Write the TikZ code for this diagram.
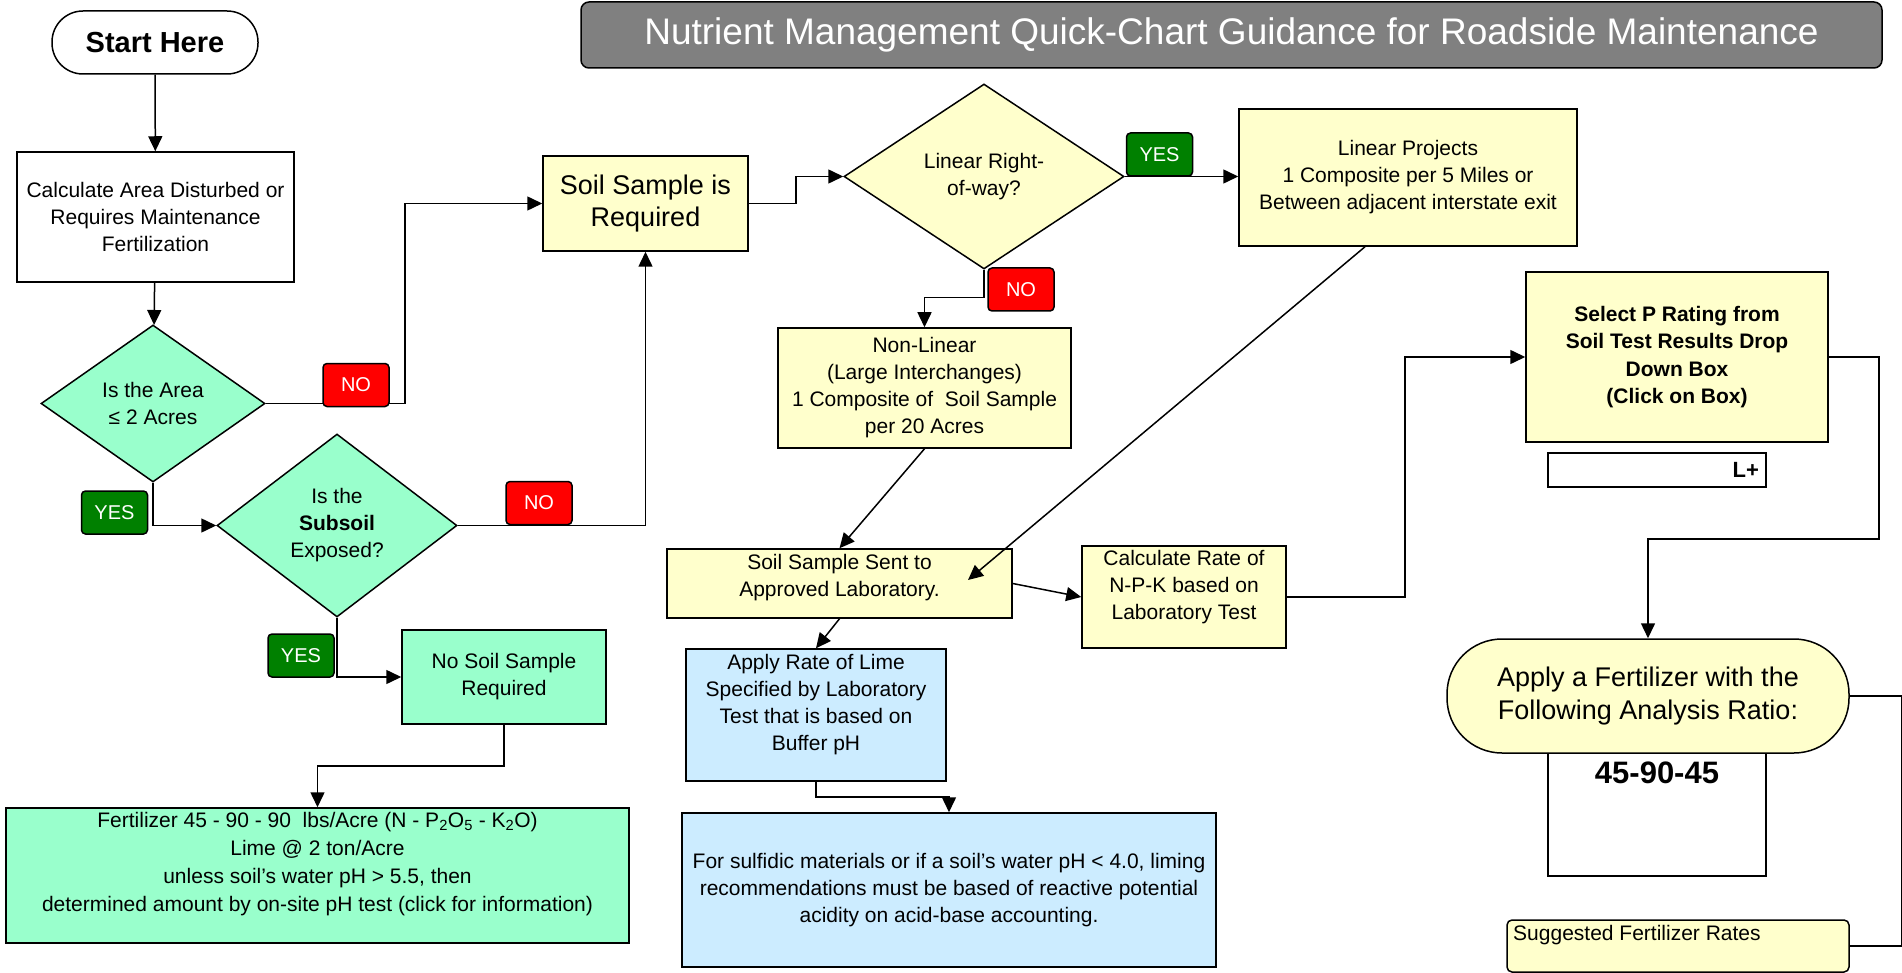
\documentclass[tikz,border=0pt]{standalone}
\usepackage{fontspec}
\setmainfont{Liberation Sans}
\usetikzlibrary{shapes.geometric,arrows.meta}

\definecolor{mint}{HTML}{99FFCC}
\definecolor{paleyellow}{HTML}{FFFFCC}
\definecolor{paleblue}{HTML}{CCECFF}
\definecolor{yesgreen}{HTML}{008000}
\definecolor{nored}{HTML}{FF0000}
\definecolor{titlegray}{HTML}{808080}

\newcommand{\fsize}[2]{\fontsize{#1}{#2}\selectfont}

\begin{document}
\begin{tikzpicture}[x=1pt, y=-1pt]
\tikzstyle{every node}=[font=\fsize{21}{27}, inner sep=0pt, align=center]
\tikzstyle{box}=[draw, line width=1.5pt]
\tikzstyle{dia}=[draw, diamond, line width=1.5pt]
\tikzstyle{link}=[line width=1.5pt]
\tikzstyle{arr}=[link, -{Triangle[length=15pt, width=14pt]}]
\tikzstyle{badge}=[draw, line width=1.5pt, rounded corners=4pt, minimum width=66pt, minimum height=43pt, text=white, font=\fsize{20}{24}]
\useasboundingbox (0, 0) rectangle (1902, 973);

% title
\node [box, fill=titlegray, rounded corners=8pt, minimum width=1301pt, minimum height=66pt, text=white, font=\fsize{37}{44}] (title) at (1231.5, 35) {Nutrient Management Quick-Chart Guidance for Roadside Maintenance};

% left column
\node [box, fill=white, rounded corners=31pt, minimum width=206pt, minimum height=63pt, font=\fsize{29}{34}\bfseries] (start) at (155, 42.5) {Start Here};
\node [box, fill=white, minimum width=277pt, minimum height=130pt] (calc) at (155.5, 217) {Calculate Area Disturbed or\\Requires Maintenance\\Fertilization};
\node [dia, fill=mint, minimum width=224pt, minimum height=157pt] (area) at (153, 403.5) {Is the Area\\≤ 2 Acres};
\node [dia, fill=mint, minimum width=240pt, minimum height=183pt] (subsoil) at (337, 525.5) {Is the\\\textbf{Subsoil}\\Exposed?};
\node [box, fill=mint, minimum width=204pt, minimum height=94pt] (nosoil) at (504, 677) {No Soil Sample\\Required};
\node [box, fill=mint, minimum width=623pt, minimum height=135pt] (fert) at (317.5, 875.5) {};
\node [font=\fsize{21}{28}] (ferttext) at (317.5, 864) {Fertilizer 45 - 90 - 90~ lbs/Acre (N - P\textsubscript{2}O\textsubscript{5} - K\textsubscript{2}O)\\Lime @ 2 ton/Acre\\unless soil's water pH > 5.5, then\\determined amount by on-site pH test (click for information)};

% middle
\node [box, fill=paleyellow, minimum width=205pt, minimum height=95pt, font=\fsize{27}{32}] (soil) at (645.5, 203.5) {Soil Sample is\\Required};
\node [dia, fill=paleyellow, minimum width=280pt, minimum height=185pt] (linear) at (984, 176.5) {Linear Right-\\of-way?};
\node [box, fill=paleyellow, minimum width=338pt, minimum height=137pt] (linproj) at (1408, 177.5) {Linear Projects\\1 Composite per 5 Miles or\\Between adjacent interstate exit};
\node [box, fill=paleyellow, minimum width=293pt, minimum height=120pt] (nonlin) at (924.5, 388) {Non-Linear\\(Large Interchanges)\\1 Composite of~ Soil Sample\\per 20 Acres};
\node [box, fill=paleyellow, minimum width=345pt, minimum height=69pt] (sent) at (839.5, 583.5) {};
\node (senttext) at (839.5, 577.5) {Soil Sample Sent to\\Approved Laboratory.};
\node [box, fill=paleyellow, minimum width=204pt, minimum height=102pt] (calcrate) at (1184, 597) {};
\node (calcratetext) at (1184, 587) {Calculate Rate of\\N-P-K based on\\Laboratory Test};
\node [box, fill=paleblue, minimum width=260pt, minimum height=132pt] (lime) at (816, 715) {};
\node (limetext) at (816, 705) {Apply Rate of Lime\\Specified by Laboratory\\Test that is based on\\Buffer pH};
\node [box, fill=paleblue, minimum width=534pt, minimum height=154pt] (sulf) at (949, 890) {For sulfidic materials or if a soil's water pH < 4.0, liming\\recommendations must be based of reactive potential\\acidity on acid-base accounting.};

% right column
\node [box, fill=paleyellow, minimum width=302pt, minimum height=170pt, font=\fsize{21}{27.5}\bfseries] (select) at (1677, 357) {Select P Rating from\\Soil Test Results Drop\\Down Box\\(Click on Box)};
\node [draw, line width=2.5pt, fill=white, minimum width=218pt, minimum height=34pt, text width=204pt, align=right, font=\fsize{22}{26}\bfseries] (lplus) at (1657, 470) {L+};
\node [draw, line width=2.5pt, fill=white, minimum width=218pt, minimum height=161pt] (ratiobox) at (1657, 795.5) {};
\node [font=\fsize{31}{36}\bfseries] (ratiotext) at (1657, 773) {45-90-45};
\node [box, fill=paleyellow, rounded corners=55pt, minimum width=402pt, minimum height=114pt, font=\fsize{27}{33}] (ratio) at (1648, 696) {Apply a Fertilizer with the\\Following Analysis Ratio:};
\node [box, fill=paleyellow, rounded corners=5pt, minimum width=342pt, minimum height=52pt] (sugg) at (1678, 946) {};
\node [anchor=west] (suggtext) at (1513, 935) {Suggested Fertilizer Rates};
\coordinate (sentin) at (968, 580);
\coordinate (bend) at (1879, 539);

% connectors
\draw [arr] (start) -- (calc);
\draw [arr] (calc) -- (area);
\draw [arr] (area.east) -- ++(139, 0) |- (soil.west);
\draw [arr] (area.south) |- (subsoil.west);
\draw [arr] (subsoil.east) -| (soil.south);
\draw [arr] (subsoil.south) |- (nosoil.west);
\draw [arr] (nosoil.south) -- ++(0, 41) -| (fert.north);
\draw [arr] (soil.east) -- ++(47, 0) |- (linear.west);
\draw [arr] (linear.east) -- (linear.east -| linproj.west);
\draw [arr] (linear.south) -- ++(0, 28) -| (nonlin.north);
\draw [arr] ([xshift=-43pt]linproj.south) -- (sentin);
\draw [arr] (nonlin.south) -- (sent.north);
\draw [arr] (sent.east) -- (calcrate.west);
\draw [arr] (sent.south) -- (lime.north);
\draw [arr] (lime.south) -- ++(0, 15) -| (sulf.north);
\draw [arr] (calcrate.east) -- ++(118, 0) |- (select.west);
\draw [arr] (select.east) -| (bend) -| (ratio.north);
\draw [link] (ratio.east) -- ++(52, 0) |- (sugg.east);

% yes / no tags
\node [badge, fill=nored] (no1) at (356, 385) {NO};
\node [badge, fill=yesgreen] (yes1) at (114.5, 512.5) {YES};
\node [badge, fill=nored] (no2) at (539, 503) {NO};
\node [badge, fill=yesgreen] (yes2) at (301, 655.5) {YES};
\node [badge, fill=yesgreen] (yes3) at (1159.5, 154.5) {YES};
\node [badge, fill=nored] (no3) at (1021, 289.5) {NO};

\end{tikzpicture}
\end{document}
